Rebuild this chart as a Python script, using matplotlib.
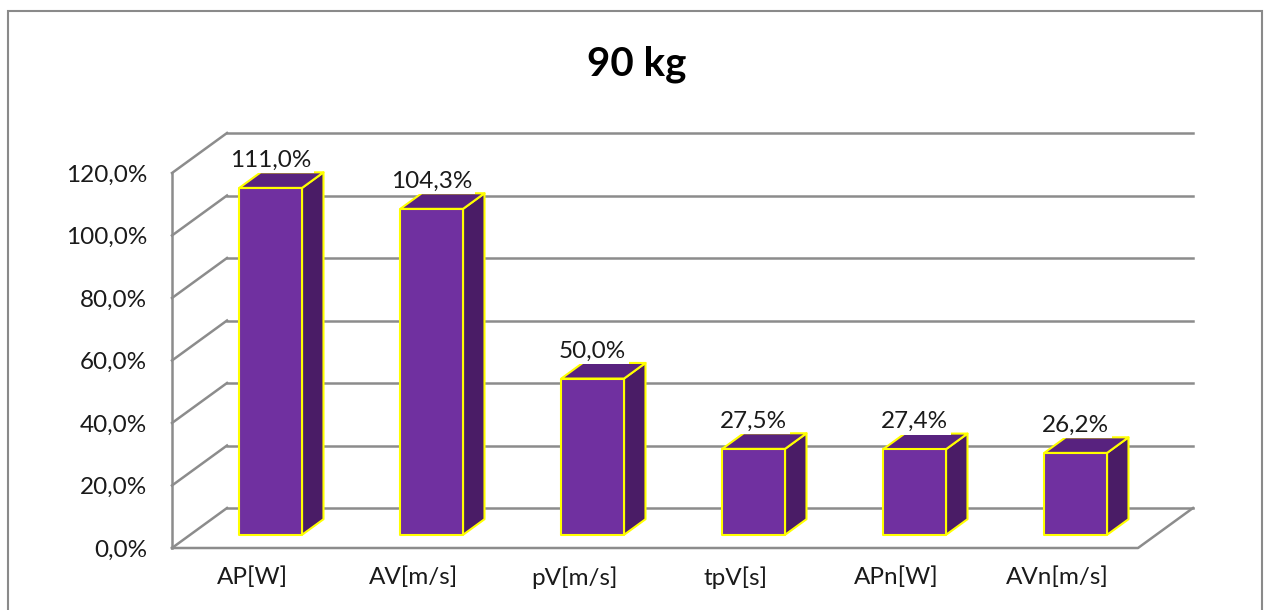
import numpy as np
import matplotlib
matplotlib.use('Agg')
import matplotlib.pyplot as plt
from matplotlib.patches import Rectangle, Polygon

plt.rcParams['font.family'] = ['Lato', 'DejaVu Sans']

title = '90 kg'
categories = ['AP[W]', 'AV[m/s]', 'pV[m/s]', 'tpV[s]', 'APn[W]', 'AVn[m/s]']
values = [111.0, 104.3, 50.0, 27.5, 27.4, 26.2]
yticks = [0, 20, 40, 60, 80, 100, 120]

front_c = '#7030a0'
top_c = '#58227f'
side_c = '#4a1c66'
edge_c = '#ffff00'
grid_c = '#8c8c8c'
text_c = '#1a1a1a'

W, H = 1264, 610
fig = plt.figure(figsize=(W / 100, H / 100), dpi=100)
# front plane of the plot area in pixels
x_left, x_right, y_bot, y_top = 172, 1138, 548, 173
ax = fig.add_axes([x_left / W, (H - y_bot) / H, (x_right - x_left) / W, (y_bot - y_top) / H])
n = len(categories)
ax.set_xlim(0, n)
ax.set_ylim(0, 120)

# depth of the 3d box, pixels -> data units
px_x = n / (x_right - x_left)
px_y = 120 / (y_bot - y_top)
DX = 55 * px_x
DY = 40 * px_y

# walls and gridlines
lw = 1.8
for v in yticks:
    ax.plot([0, DX], [v, v + DY], color=grid_c, lw=lw, clip_on=False, zorder=1)
    ax.plot([DX, n + DX], [v + DY, v + DY], color=grid_c, lw=lw, clip_on=False, zorder=1)
ax.plot([0, 0], [0, 120], color=grid_c, lw=lw, clip_on=False, zorder=1)
ax.plot([0, n, n + DX], [0, 0, DY], color=grid_c, lw=lw, clip_on=False, zorder=1)

# bars
f0, f1 = 0.33, 0.72
bw = 0.39
for i, v in enumerate(values):
    x0 = i + 0.5 - bw / 2 + f0 * DX
    x1 = x0 + bw
    base = f0 * DY
    top = base + v
    ddx = (f1 - f0) * DX
    ddy = (f1 - f0) * DY
    kw = dict(edgecolor=edge_c, lw=1.5, clip_on=False, zorder=3, joinstyle='round')
    ax.add_patch(Polygon([(x1, base), (x1 + ddx, base + ddy), (x1 + ddx, top + ddy), (x1, top)],
                         facecolor=side_c, **kw))
    ax.add_patch(Polygon([(x0, top), (x1, top), (x1 + ddx, top + ddy), (x0 + ddx, top + ddy)],
                         facecolor=top_c, **kw))
    ax.add_patch(Rectangle((x0, base), bw, v, facecolor=front_c, **kw))
    ax.annotate(f'{v:.1f}%'.replace('.', ','), (x0 + bw / 2, top + ddy),
                xytext=(0, 1), textcoords='offset points', ha='center', va='bottom',
                fontsize=17.5, color=text_c, zorder=4, annotation_clip=False,
                bbox=dict(boxstyle='square,pad=0.1', fc='white', ec='none'))

ax.set_xticks(np.arange(n) + 0.5)
ax.set_xticklabels(categories)
ax.set_yticks(yticks)
ax.set_yticklabels([f'{v:.1f}%'.replace('.', ',') for v in yticks])
ax.tick_params(length=0, labelsize=17.5, labelcolor=text_c)
ax.tick_params(axis='x', pad=13)
ax.tick_params(axis='y', pad=18)
for s in ax.spines.values():
    s.set_visible(False)
ax.patch.set_visible(False)

fig.text(637 / W, 1 - 64 / H, title, ha='center', va='center', fontsize=29,
         fontweight='bold', color='black')

# chart border
fig.patches.append(Rectangle((8 / W, -0.02), (1262 - 8) / W, (H - 11) / H + 0.02,
                             transform=fig.transFigure, fill=False, ec='#8a8a8a', lw=1.5))

fig.savefig('out.png', dpi=100, facecolor='white')
